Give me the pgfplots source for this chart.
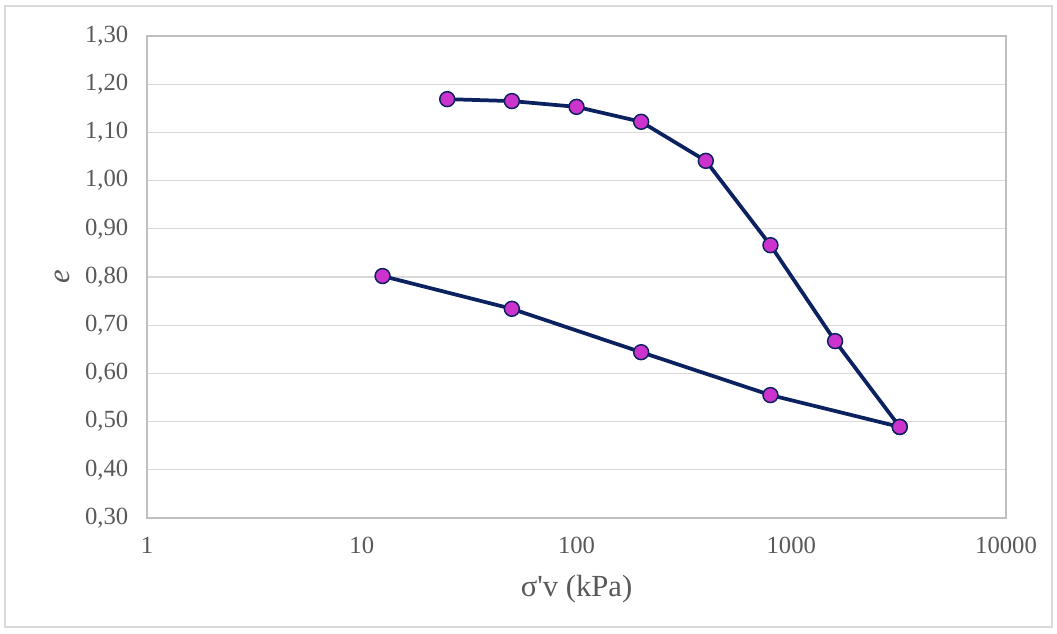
\documentclass[border=0pt]{standalone}
\usepackage{fontspec}
\setmainfont{Liberation Serif}
\usepackage{pgfplots}
\pgfplotsset{compat=1.18}
\definecolor{navy}{HTML}{0B2160}
\definecolor{mag}{HTML}{CC33CC}
\definecolor{gridc}{HTML}{D9D9D9}
\definecolor{axisc}{HTML}{BFBFBF}
\definecolor{txt}{HTML}{595959}
\begin{document}
\begin{tikzpicture}[x=0.75pt,y=0.75pt]
\useasboundingbox (0,0) rectangle (1057,633);
\fill[white] (0,0) rectangle (1057,633);
\draw[gridc, line width=1.2pt] (5,6) rectangle (1052,627);
\begin{axis}[
  at={(110.25pt,86.25pt)}, anchor=south west,
  scale only axis, width=644.25pt, height=361.5pt,
  xmode=log, xmin=1, xmax=10000, ymin=0.3, ymax=1.3,
  xtick={1,10,100,1000,10000},
  xticklabels={1,10,100,1000,10000},
  minor xtick={},
  ytick={0.3,0.4,0.5,0.6,0.7,0.8,0.9,1.0,1.1,1.2,1.3},
  yticklabels={{0,30},{0,40},{0,50},{0,60},{0,70},{0,80},{0,90},{1,00},{1,10},{1,20},{1,30}},
  tick style={draw=none},
  ymajorgrids, grid style={gridc, line width=0.9pt},
  axis line style={axisc, line width=0.9pt},
  tick label style={text=txt, font=\fontsize{18.5}{21}\selectfont},
  yticklabel style={xshift=-10.5pt},
  xticklabel style={yshift=-11pt},
  label style={text=txt, font=\fontsize{23}{27}\selectfont},
  xlabel={σ\textquotesingle v (kPa)},
  ylabel={\itshape e},
  xlabel style={at={(axis description cs:0.5,0)}, anchor=center, yshift=-53.25pt},
  ylabel style={at={(axis description cs:0,0.5)}, anchor=center, yshift=63.75pt},
  clip=false,
]
\addplot[navy, line width=2.8pt, mark=*, mark size=5.6pt, mark options={fill=mag, draw=navy, line width=1.1pt}]
  coordinates {(25,1.169) (50,1.165) (100,1.153) (200,1.122) (400,1.041) (800,0.866) (1600,0.667) (3200,0.489)};
\addplot[navy, line width=2.8pt, mark=*, mark size=5.6pt, mark options={fill=mag, draw=navy, line width=1.1pt}]
  coordinates {(3200,0.489) (800,0.555) (200,0.644) (50,0.734) (12.5,0.802)};
\end{axis}
\end{tikzpicture}
\end{document}
